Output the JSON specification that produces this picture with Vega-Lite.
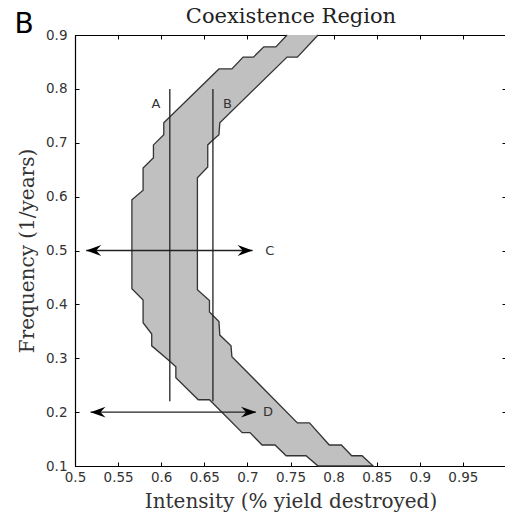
{
  "$schema": "https://vega.github.io/schema/vega-lite/v6.json",
  "width": 431,
  "height": 431,
  "autosize": {"type": "none"},
  "padding": {"left": 75, "top": 35, "right": 0, "bottom": 47},
  "background": "white",
  "config": {
    "view": {"stroke": "#000", "strokeWidth": 1},
    "axis": {
      "domainColor": "#000", "domainWidth": 1.2, "tickColor": "#000", "tickSize": -4, "tickWidth": 1,
      "grid": false, "labelFont": "DejaVu Sans", "labelFontSize": 13.5, "labelColor": "#333",
      "titleFont": "DejaVu Serif", "titleFontSize": 20, "titleFontWeight": "normal", "titleColor": "#333",
      "labelFlush": false, "labelOverlap": false, "format": "~g"
    }
  },
  "datasets": {
    "region": [
      {"i": 0, "x": 0.746, "y": 0.9}, {"i": 1, "x": 0.733, "y": 0.878}, {"i": 2, "x": 0.719, "y": 0.878},
      {"i": 3, "x": 0.707, "y": 0.859}, {"i": 4, "x": 0.695, "y": 0.859}, {"i": 5, "x": 0.682, "y": 0.837},
      {"i": 6, "x": 0.667, "y": 0.837}, {"i": 7, "x": 0.603, "y": 0.737}, {"i": 8, "x": 0.603, "y": 0.715},
      {"i": 9, "x": 0.591, "y": 0.696}, {"i": 10, "x": 0.591, "y": 0.672}, {"i": 11, "x": 0.579, "y": 0.653},
      {"i": 12, "x": 0.579, "y": 0.612}, {"i": 13, "x": 0.566, "y": 0.594}, {"i": 14, "x": 0.566, "y": 0.429},
      {"i": 15, "x": 0.579, "y": 0.408}, {"i": 16, "x": 0.579, "y": 0.366}, {"i": 17, "x": 0.589, "y": 0.345},
      {"i": 18, "x": 0.589, "y": 0.323}, {"i": 19, "x": 0.611, "y": 0.293}, {"i": 20, "x": 0.617, "y": 0.284},
      {"i": 21, "x": 0.617, "y": 0.264}, {"i": 22, "x": 0.643, "y": 0.223}, {"i": 23, "x": 0.656, "y": 0.223},
      {"i": 24, "x": 0.694, "y": 0.162}, {"i": 25, "x": 0.703, "y": 0.162}, {"i": 26, "x": 0.717, "y": 0.139},
      {"i": 27, "x": 0.732, "y": 0.139}, {"i": 28, "x": 0.745, "y": 0.119}, {"i": 29, "x": 0.768, "y": 0.119},
      {"i": 30, "x": 0.782, "y": 0.1}, {"i": 31, "x": 0.846, "y": 0.1}, {"i": 32, "x": 0.833, "y": 0.119},
      {"i": 33, "x": 0.821, "y": 0.119}, {"i": 34, "x": 0.809, "y": 0.139}, {"i": 35, "x": 0.795, "y": 0.139},
      {"i": 36, "x": 0.772, "y": 0.18}, {"i": 37, "x": 0.758, "y": 0.18}, {"i": 38, "x": 0.682, "y": 0.303},
      {"i": 39, "x": 0.681, "y": 0.323}, {"i": 40, "x": 0.668, "y": 0.343}, {"i": 41, "x": 0.667, "y": 0.368},
      {"i": 42, "x": 0.656, "y": 0.386}, {"i": 43, "x": 0.656, "y": 0.407}, {"i": 44, "x": 0.642, "y": 0.427},
      {"i": 45, "x": 0.642, "y": 0.635}, {"i": 46, "x": 0.654, "y": 0.655}, {"i": 47, "x": 0.654, "y": 0.696},
      {"i": 48, "x": 0.66, "y": 0.705}, {"i": 49, "x": 0.667, "y": 0.715}, {"i": 50, "x": 0.668, "y": 0.737},
      {"i": 51, "x": 0.746, "y": 0.859}, {"i": 52, "x": 0.758, "y": 0.859}, {"i": 53, "x": 0.782, "y": 0.9}
    ],
    "vlines": [
      {"label": "A", "x": 0.61, "y1": 0.8, "y2": 0.22},
      {"label": "B", "x": 0.66, "y1": 0.8, "y2": 0.22}
    ],
    "arrows": [
      {"label": "C", "y": 0.5, "x1": 0.513, "x2": 0.706},
      {"label": "D", "y": 0.2, "x1": 0.518, "x2": 0.71}
    ],
    "labels": [
      {"t": "A", "x": 0.594, "y": 0.772},
      {"t": "B", "x": 0.677, "y": 0.772},
      {"t": "C", "x": 0.726, "y": 0.5},
      {"t": "D", "x": 0.724, "y": 0.2}
    ],
    "panel": [
      {"t": "B", "x": 0.441, "y": 0.918}
    ]
  },
  "layer": [
    {
      "data": {"name": "region"},
      "mark": {"type": "line", "fill": "#c0c0c0", "stroke": "#333", "strokeWidth": 1.3, "strokeJoin": "miter"},
      "encoding": {
        "x": {"field": "x", "type": "quantitative", "scale": {"domain": [0.5, 1.0], "zero": false, "nice": false},
              "axis": {"orient": "bottom", "values": [0.5, 0.55, 0.6, 0.65, 0.7, 0.75, 0.8, 0.85, 0.9, 0.95], "title": "Intensity (% yield destroyed)", "labelPadding": 8, "titlePadding": 8}},
        "y": {"field": "y", "type": "quantitative", "scale": {"domain": [0.1, 0.9], "zero": false, "nice": false},
              "axis": {"orient": "left", "values": [0.1, 0.2, 0.3, 0.4, 0.5, 0.6, 0.7, 0.8, 0.9], "title": "Frequency (1/years)", "labelPadding": 12, "titlePadding": 8}},
        "order": {"field": "i", "type": "quantitative"}
      }
    },
    {
      "data": {"name": "vlines"},
      "mark": {"type": "rule", "stroke": "#222", "strokeWidth": 1.3},
      "encoding": {
        "x": {"field": "x", "type": "quantitative", "scale": {"domain": [0.5, 1.0], "zero": false, "nice": false},
              "axis": {"orient": "top", "values": [0.5, 0.55, 0.6, 0.65, 0.7, 0.75, 0.8, 0.85, 0.9, 0.95], "labels": false, "domain": false,
                       "title": "Coexistence Region", "titleFontSize": 21, "titleColor": "#222", "titlePadding": 8}},
        "y": {"field": "y1", "type": "quantitative", "scale": {"domain": [0.1, 0.9], "zero": false, "nice": false},
              "axis": {"orient": "right", "values": [0.1, 0.2, 0.3, 0.4, 0.5, 0.6, 0.7, 0.8, 0.9], "labels": false, "title": null, "domain": false}},
        "y2": {"field": "y2"}
      }
    },
    {
      "data": {"name": "arrows"},
      "mark": {"type": "rule", "stroke": "#222", "strokeWidth": 1.3},
      "encoding": {
        "x": {"field": "x1", "type": "quantitative", "scale": {"domain": [0.5, 1.0], "zero": false, "nice": false}, "axis": null},
        "x2": {"field": "x2"},
        "y": {"field": "y", "type": "quantitative", "scale": {"domain": [0.1, 0.9], "zero": false, "nice": false}, "axis": null}
      }
    },
    {
      "data": {"name": "arrows"},
      "mark": {"type": "point", "shape": "M0,0 L-2,-0.73 L-1.33,0 L-2,0.73 Z", "size": 225, "filled": true, "color": "#000", "opacity": 1, "strokeWidth": 0},
      "encoding": {
        "x": {"field": "x2", "type": "quantitative", "scale": {"domain": [0.5, 1.0], "zero": false, "nice": false}, "axis": null},
        "y": {"field": "y", "type": "quantitative", "scale": {"domain": [0.1, 0.9], "zero": false, "nice": false}, "axis": null}
      }
    },
    {
      "data": {"name": "arrows"},
      "mark": {"type": "point", "shape": "M0,0 L2,-0.73 L1.33,0 L2,0.73 Z", "size": 225, "filled": true, "color": "#000", "opacity": 1, "strokeWidth": 0},
      "encoding": {
        "x": {"field": "x1", "type": "quantitative", "scale": {"domain": [0.5, 1.0], "zero": false, "nice": false}, "axis": null},
        "y": {"field": "y", "type": "quantitative", "scale": {"domain": [0.1, 0.9], "zero": false, "nice": false}, "axis": null}
      }
    },
    {
      "data": {"name": "labels"},
      "mark": {"type": "text", "font": "DejaVu Sans", "fontSize": 13, "color": "#333", "align": "center", "baseline": "middle"},
      "encoding": {
        "x": {"field": "x", "type": "quantitative", "scale": {"domain": [0.5, 1.0], "zero": false, "nice": false}, "axis": null},
        "y": {"field": "y", "type": "quantitative", "scale": {"domain": [0.1, 0.9], "zero": false, "nice": false}, "axis": null},
        "text": {"field": "t"}
      }
    },
    {
      "data": {"name": "panel"},
      "mark": {"type": "text", "font": "DejaVu Sans", "fontSize": 28, "color": "#000", "align": "center", "baseline": "middle"},
      "encoding": {
        "x": {"field": "x", "type": "quantitative", "scale": {"domain": [0.5, 1.0], "zero": false, "nice": false}, "axis": null},
        "y": {"field": "y", "type": "quantitative", "scale": {"domain": [0.1, 0.9], "zero": false, "nice": false}, "axis": null},
        "text": {"field": "t"}
      }
    }
  ],
  "resolve": {"axis": {"x": "independent", "y": "independent"}}
}
